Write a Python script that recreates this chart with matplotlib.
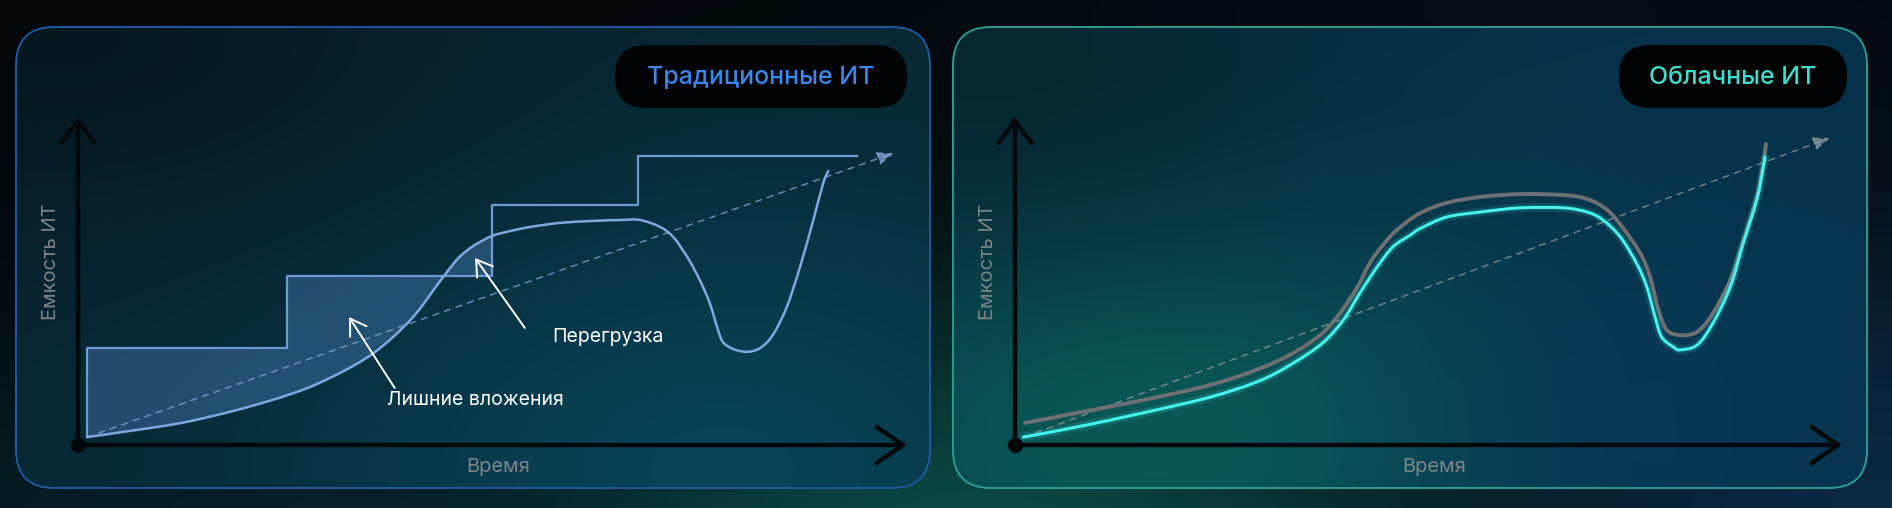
import numpy as np
import matplotlib.pyplot as plt
from matplotlib.patches import FancyBboxPatch, PathPatch
from matplotlib.path import Path
from matplotlib.colors import to_rgb

W, H = 1892, 508

# --- data (time 0..100, capacity 0..100) ---
# left panel: traditional IT, demand curve
trad_time = [1.1, 6.3, 12.4, 18.3, 23.4, 27.4, 30.6, 33.4, 35.7, 38.0, 40.1, 41.6,
             42.9, 44.4, 46.0, 47.7, 49.9, 52.1, 54.6, 58.1, 61.9, 65.4, 67.8, 70.2,
             71.8, 73.5, 75.0, 76.2, 77.2, 77.8, 79.0, 80.7, 82.3, 83.8, 85.5, 87.1,
             88.7, 89.9, 90.5]
trad_demand = [2.4, 4.3, 6.7, 10.1, 13.7, 17.1, 20.7, 24.4, 28.1, 32.9, 38.1, 42.7,
               47.3, 52.4, 57.3, 60.7, 63.7, 65.2, 66.5, 67.7, 68.3, 68.6, 68.6, 66.5,
               63.4, 57.3, 50.3, 43.3, 35.1, 31.4, 29.3, 28.4, 29.6, 33.5, 42.1, 54.3,
               68.6, 79.9, 83.5]

# left panel: purchased capacity steps
step_edges = [1.1, 25.2, 49.9, 67.5, 94.0]
step_levels = [29.6, 51.5, 73.2, 88.1]
step_base = 2.4

# dashed trend line (start, end)
trend_left_t = [1.1, 98.4]
trend_left_c = [2.4, 89.0]

# right panel: cloud IT
cloud_demand_time = [1.2, 7.5, 15.5, 23.6, 29.6, 33.6, 36.9, 39.3, 41.4, 42.9, 44.5,
                     46.2, 49.0, 52.2, 56.2, 61.1, 66.3, 69.2, 71.6, 73.5, 75.6, 76.8,
                     77.8, 78.8, 80.4, 82.5, 84.4, 86.5, 88.0, 89.7, 90.5, 90.8]
cloud_demand = [6.7, 9.8, 13.7, 18.3, 23.3, 28.0, 33.5, 40.2, 48.2, 55.5, 61.0,
                65.6, 70.7, 73.8, 75.6, 76.5, 76.2, 75.0, 71.7, 66.2, 58.5, 51.2,
                41.2, 35.1, 33.5, 34.5, 40.2, 50.3, 61.8, 75.6, 86.0, 91.8]

cloud_capacity_time = [1.0, 7.5, 15.5, 23.6, 29.6, 33.6, 37.2, 39.7, 41.7, 43.8, 45.7,
                       47.8, 49.0, 52.2, 56.2, 61.1, 66.3, 69.2, 71.1, 73.2, 75.2, 76.4,
                       77.4, 78.2, 79.6, 80.4, 82.5, 84.4, 86.5, 88.0, 89.7, 90.5, 90.7]
cloud_capacity = [2.4, 5.5, 9.8, 14.6, 19.6, 24.9, 31.1, 38.1, 46.3, 54.3, 60.4,
                  64.0, 66.0, 69.5, 71.0, 72.3, 72.3, 71.0, 68.6, 63.4, 55.2, 48.2,
                  39.0, 32.9, 29.9, 29.0, 30.5, 37.2, 48.2, 61.0, 74.7, 84.8, 87.8]

trend_right_t = [1.1, 98.5]
trend_right_c = [2.4, 93.6]


def curve_codes(xs, ys):
    # bezier segments passing through the read points (catmull-rom handles)
    p = np.column_stack([xs, ys]).astype(float)
    n = len(p)
    verts = [p[0]]
    for i in range(n - 1):
        a = p[max(i - 1, 0)]
        b = p[i]
        c = p[i + 1]
        d = p[min(i + 2, n - 1)]
        verts += [b + (c - a) / 6, c - (d - b) / 6, c]
    codes = [Path.MOVETO] + [Path.CURVE4] * (3 * (n - 1))
    return verts, codes


def curve_patch(xs, ys, **kw):
    verts, codes = curve_codes(xs, ys)
    return PathPatch(Path(verts, codes), facecolor='none', capstyle='round',
                     joinstyle='round', **kw)


def glow_image(h, w, x0, y0, base, glows):
    # soft background: base colour with a few gaussian glows
    yy, xx = np.mgrid[0:h, 0:w]
    xx = xx + x0
    yy = yy + y0
    img = np.ones((h, w, 3)) * np.array(to_rgb(base))
    for cx, cy, sx, sy, col, a in glows:
        k = a * np.exp(-((xx - cx) ** 2 / sx ** 2 + (yy - cy) ** 2 / sy ** 2))
        img = img * (1 - k[..., None]) + np.array(to_rgb(col)) * k[..., None]
    return img


fig = plt.figure(figsize=(W / 100, H / 100), dpi=100)
bg = fig.add_axes([0, 0, 1, 1])
bg.axis('off')

bg.imshow(glow_image(H, W, 0, 0, '#03070a', [
    (940, 560, 520, 260, '#0b4d47', 1.0),
    (1890, 520, 420, 300, '#0b2c48', 0.9),
    (200, 520, 500, 200, '#05222a', 0.8),
    (1500, 0, 500, 120, '#060f1c', 0.6),
]), extent=[0, W, H, 0], aspect='auto', zorder=0)

panels = [
    dict(x=16, y=27, border='#1f5a9c', base='#082632', glows=[
        (720, 470, 440, 280, '#07465a', 0.9),
        (60, 40, 420, 200, '#04141b', 0.8),
    ]),
    dict(x=953, y=27, border='#2c9a90', base='#06314a', glows=[
        (1170, 430, 380, 230, '#0b5c57', 0.95),
        (990, 60, 380, 200, '#062428', 0.8),
        (1700, 420, 300, 200, '#08385a', 0.6),
    ]),
]
pw, ph = 914, 461
for p in panels:
    box = FancyBboxPatch((p['x'], p['y']), pw, ph,
                         boxstyle='round,pad=0,rounding_size=38',
                         facecolor='none', edgecolor=p['border'], lw=1.4, zorder=3)
    bg.add_patch(box)
    im = bg.imshow(glow_image(ph, pw, p['x'], p['y'], p['base'], p['glows']),
                   extent=[p['x'], p['x'] + pw, p['y'] + ph, p['y']],
                   aspect='auto', zorder=1)
    im.set_clip_path(box)

# title pills
pills = [
    (615, 45, 292, 63, 'Традиционные ИТ', '#3a86ee'),
    (1619, 45, 228, 63, 'Облачные ИТ', '#3fdccb'),
]
for x, y, w, h, label, col in pills:
    bg.add_patch(FancyBboxPatch((x, y), w, h, boxstyle='round,pad=0,rounding_size=31',
                                facecolor='#010203', edgecolor='none', zorder=4))
    bg.text(x + w / 2, y + h / 2 + 1, label, color=col, fontsize=18, family='Inter',
            fontweight='medium', ha='center', va='center', zorder=5)

bg.set_xlim(0, W)
bg.set_ylim(H, 0)

axis_col = '#04080a'
label_col = '#7c8488'


def make_axes(left_px, width_px):
    ax = fig.add_axes([left_px / W, (H - 445) / H, width_px / W, 328 / H])
    ax.set_xlim(0, 100)
    ax.set_ylim(0, 100)
    ax.axis('off')
    ax.patch.set_alpha(0)
    # axis arrows
    ax.annotate('', xy=(1, 0), xytext=(0, 0), xycoords='axes fraction',
                arrowprops=dict(arrowstyle='->,head_length=0.95,head_width=0.65',
                                mutation_scale=20, lw=3.2, color=axis_col,
                                shrinkA=0, shrinkB=0, capstyle='round'), zorder=6)
    ax.annotate('', xy=(0, 1), xytext=(0, 0), xycoords='axes fraction',
                arrowprops=dict(arrowstyle='->,head_length=0.8,head_width=0.6',
                                mutation_scale=20, lw=3.2, color=axis_col,
                                shrinkA=0, shrinkB=0), zorder=6)
    ax.plot([0], [0], 'o', ms=10, color=axis_col, clip_on=False, zorder=7)
    ax.text(0.507, -0.067, 'Время', transform=ax.transAxes, color=label_col,
            fontsize=14.5, family='Inter', ha='center', va='center')
    ax.text(-0.033, 0.56, 'Емкость ИТ', transform=ax.transAxes, color=label_col,
            fontsize=14.5, family='Inter', ha='center', va='center', rotation=90)
    return ax


# ---- left: traditional IT ----
axl = make_axes(78, 829)
blue = '#7ea9e0'

# fill between capacity steps and demand up to the third step
fill_v = [(step_edges[0], step_base)]
for i in range(2):
    fill_v += [(step_edges[i], step_levels[i]), (step_edges[i + 1], step_levels[i])]
fill_c = [Path.MOVETO] + [Path.LINETO] * (len(fill_v) - 1)
t = np.array(trad_time)
d = np.array(trad_demand)
m = t <= step_edges[2]
cv, cc = curve_codes(t[m][::-1], d[m][::-1])
fill_v += list(map(tuple, cv))
fill_c += [Path.LINETO] + cc[1:]
fill_v.append(fill_v[0])
fill_c.append(Path.CLOSEPOLY)
axl.add_patch(PathPatch(Path(fill_v, fill_c), facecolor='#4f86c6', alpha=0.38,
                        lw=0, zorder=2))

axl.step([step_edges[0]] + step_edges, [step_base] + step_levels + [step_levels[-1]],
         where='post', color='#6c9bd8', lw=1.6, zorder=3)
axl.add_patch(curve_patch(trad_time, trad_demand, edgecolor=blue, lw=1.8, zorder=4))
axl.annotate('', xy=(trend_left_t[1], trend_left_c[1]), xytext=(trend_left_t[0], trend_left_c[0]),
             arrowprops=dict(arrowstyle='-|>,head_length=0.5,head_width=0.2', mutation_scale=20,
                             lw=1.1, color='#86a9d8', alpha=0.75, linestyle=(0, (4, 4)),
                             shrinkA=0, shrinkB=0), zorder=3)

arrow_kw = dict(arrowstyle='->,head_length=0.55,head_width=0.35', mutation_scale=20,
                lw=1.4, color='white', shrinkA=0, shrinkB=0)
axl.annotate('', xy=(47.9, 57.0), xytext=(53.9, 35.7), arrowprops=arrow_kw, zorder=5)
axl.annotate('', xy=(32.7, 39.0), xytext=(38.2, 17.4), arrowprops=arrow_kw, zorder=5)
axl.text(57.2, 32.9, 'Перегрузка', color='white', fontsize=14, family='Inter',
         ha='left', va='center')
axl.text(37.3, 13.7, 'Лишние вложения', color='white', fontsize=14, family='Inter',
         ha='left', va='center')

# ---- right: cloud IT ----
axr = make_axes(1015, 827)
axr.annotate('', xy=(trend_right_t[1], trend_right_c[1]), xytext=(trend_right_t[0], trend_right_c[0]),
             arrowprops=dict(arrowstyle='-|>,head_length=0.5,head_width=0.2', mutation_scale=20,
                             lw=1.1, color='#8d9ba2', alpha=0.75, linestyle=(0, (4, 4)),
                             shrinkA=0, shrinkB=0), zorder=3)
axr.add_patch(curve_patch(cloud_demand_time, cloud_demand, edgecolor='#6d6f72',
                          lw=2.8, zorder=4))
axr.add_patch(curve_patch(cloud_capacity_time, cloud_capacity, edgecolor='#3ff2ea',
                          lw=6, alpha=0.15, zorder=4))
axr.add_patch(curve_patch(cloud_capacity_time, cloud_capacity, edgecolor='#45f3ec',
                          lw=2.2, zorder=5))

fig.savefig('out.png', dpi=100)
